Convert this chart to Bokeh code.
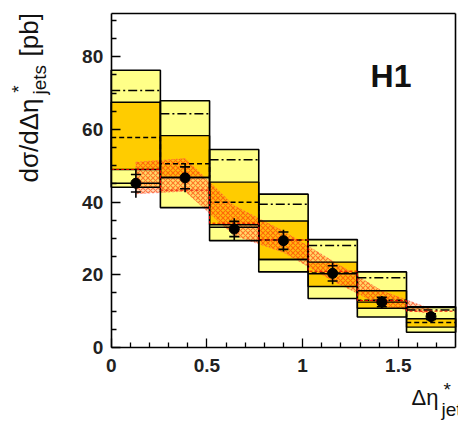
import math
from bokeh.plotting import figure
from bokeh.models import Range1d, FixedTicker, NumeralTickFormatter, Label, LinearAxis
from bokeh.embed import file_html
from bokeh.resources import INLINE

# ---- data ----
bin_edges = [0.0, 0.257, 0.514, 0.771, 1.029, 1.286, 1.543, 1.8]
bin_centers = [0.129, 0.386, 0.643, 0.900, 1.157, 1.414, 1.671]

yellow_lo = [44.1, 38.5, 29.4, 20.8, 13.5, 8.4, 4.2]
yellow_hi = [76.3, 67.9, 54.5, 42.2, 29.7, 20.8, 11.2]
orange_lo = [49.0, 46.8, 33.8, 24.2, 16.8, 10.8, 5.6]
orange_hi = [67.5, 58.3, 45.5, 34.8, 23.5, 15.6, 7.9]
dashdot_vals = [70.7, 64.3, 51.7, 39.4, 28.1, 19.2, 10.3]
dashed_vals = [57.8, 50.6, 40.0, 29.6, 20.5, 13.0, 6.9]
solid_vals = [45.2, 46.8, 33.1, 24.2, 20.3, 12.5, 11.0]

nlo_hi = [51.0, 52.0, 39.0, 32.0, 23.8, 15.6, 10.6]
nlo_lo = [42.3, 43.0, 30.8, 26.2, 18.4, 11.5, 9.3]
nlo_step = [49.0, 43.3, 34.2, 29.6, 21.0, 12.9, 10.0]

data_y = [45.2, 46.7, 32.6, 29.4, 20.4, 12.5, 8.5]
stat_err = [2.4, 3.0, 2.1, 2.4, 2.1, 1.3, 0.8]
tot_err = [4.0, 4.0, 3.0, 3.0, 3.0, 1.7, 1.1]

x_ticks = [0, 0.5, 1, 1.5]
x_minor = [0.1, 0.2, 0.3, 0.4, 0.6, 0.7, 0.8, 0.9, 1.1, 1.2, 1.3, 1.4, 1.6, 1.7]
y_ticks = [0, 20, 40, 60, 80]
y_minor = [5, 10, 15, 25, 30, 35, 45, 50, 55, 65, 70, 75, 85, 90]
X_MIN, X_MAX = 0.0, 1.8
Y_MIN, Y_MAX = 0.0, 92.0

YELLOW = "#FFFF88"
ORANGE = "#FFCC00"
FONT = "Liberation Sans"
TXT = "#111111"

# ---- layout: the frame fills the whole canvas; axes are drawn at fixed locations ----
W, H = 458, 422
FL, FR, FT, FB = 110.7, 455.2, 12.7, 347.0     # pixel box of the plotting area
sx_ = (FR - FL) / (X_MAX - X_MIN)
sy_ = (FB - FT) / (Y_MAX - Y_MIN)
x_range = Range1d(X_MIN - FL / sx_, X_MAX + (W - FR) / sx_)
y_range = Range1d(Y_MIN - (H - FB) / sy_, Y_MAX + FT / sy_)

p = figure(width=W, height=H, x_range=x_range, y_range=y_range,
           output_backend="svg", toolbar_location=None, min_border=0,
           x_axis_location=None, y_axis_location=None)
p.xgrid.visible = False
p.ygrid.visible = False
p.outline_line_color = None
p.background_fill_color = "white"
p.border_fill_color = "white"

left = bin_edges[:-1]
right = bin_edges[1:]

# filled boxes
p.quad(left=left, right=right, bottom=yellow_lo, top=yellow_hi, fill_color=YELLOW, line_color=None)
p.quad(left=left, right=right, bottom=orange_lo, top=orange_hi, fill_color=ORANGE, line_color=None)

# NLO hatched band
band_x = bin_centers + bin_centers[::-1]
band_y = nlo_hi + nlo_lo[::-1]
p.patch(band_x, band_y, fill_color="#FF9933", fill_alpha=0.35,
        hatch_pattern="x", hatch_color="#FF3300", hatch_alpha=0.6, hatch_scale=5, hatch_weight=1.1,
        line_color="#FF5555", line_alpha=0.5, line_width=1, line_dash="2 2")

# box outlines
p.quad(left=left, right=right, bottom=yellow_lo, top=yellow_hi, fill_color=None, line_color="black", line_width=1.6)
p.quad(left=left, right=right, bottom=orange_lo, top=orange_hi, fill_color=None, line_color="black", line_width=1.4)

# model lines
p.segment(x0=left, y0=dashdot_vals, x1=right, y1=dashdot_vals, line_color="black",
          line_width=1.5, line_dash="9 3 2 3")
sx, sy = [], []
for i in range(len(left)):
    sx += [left[i], right[i]]
    sy += [dashed_vals[i], dashed_vals[i]]
p.line(sx, sy, line_color="black", line_width=1.5, line_dash="5 3")
p.segment(x0=left, y0=solid_vals, x1=right, y1=solid_vals, line_color="black", line_width=1.4)

rx, ry = [], []
for i in range(len(left)):
    rx += [left[i], right[i]]
    ry += [nlo_step[i], nlo_step[i]]
p.line(rx, ry, line_color="#EE0000", line_width=1, line_dash="3 2")

# data points
tot_lo = [y - e for y, e in zip(data_y, tot_err)]
tot_hi = [y + e for y, e in zip(data_y, tot_err)]
st_lo = [y - e for y, e in zip(data_y, stat_err)]
st_hi = [y + e for y, e in zip(data_y, stat_err)]
p.segment(x0=bin_centers, y0=tot_lo, x1=bin_centers, y1=tot_hi, line_color="black", line_width=1.6)
p.scatter(bin_centers, st_lo, marker="dash", size=10, line_color="black", line_width=1.6)
p.scatter(bin_centers, st_hi, marker="dash", size=10, line_color="black", line_width=1.6)
p.scatter(bin_centers, data_y, marker="circle", size=10, fill_color="black", line_color="black")

# ---- axes ----
def style(ax):
    ax.axis_line_width = 1.6
    ax.axis_line_color = "black"
    ax.major_tick_in = 9
    ax.major_tick_out = 0
    ax.minor_tick_in = 5
    ax.minor_tick_out = 0
    ax.major_tick_line_width = 1.3
    ax.minor_tick_line_width = 1.3
    ax.major_label_text_font = FONT
    ax.major_label_text_font_size = "19px"
    ax.major_label_text_font_style = "bold"
    ax.major_label_text_color = "#222222"

xax = LinearAxis(fixed_location=Y_MIN, bounds=(X_MIN, X_MAX),
                 ticker=FixedTicker(ticks=x_ticks, minor_ticks=x_minor),
                 formatter=NumeralTickFormatter(format="0.[0]"))
style(xax)
xax.major_label_standoff = 11
p.add_layout(xax, "below")

yax = LinearAxis(fixed_location=X_MIN, bounds=(Y_MIN, Y_MAX),
                 ticker=FixedTicker(ticks=y_ticks, minor_ticks=y_minor))
style(yax)
yax.major_label_standoff = 8
p.add_layout(yax, "left")

# plain frame sides (top and right), no ticks
for loc, fixed, bnds in (("above", Y_MAX, (X_MIN, X_MAX)), ("right", X_MAX, (Y_MIN, Y_MAX))):
    ax = LinearAxis(fixed_location=fixed, bounds=bnds, ticker=FixedTicker(ticks=[]))
    ax.axis_line_width = 1.6
    ax.axis_line_color = "black"
    ax.major_tick_in = 0
    ax.major_tick_out = 0
    ax.minor_tick_in = 0
    ax.minor_tick_out = 0
    ax.major_label_text_font_size = "0px"
    p.add_layout(ax, loc)

# ---- texts (anchored at the vertical middle of the text line) ----
def lab(x, y, text, size, angle=0.0, bold=False):
    p.add_layout(Label(x=x, y=y, text=text, angle=angle, text_font=FONT, text_font_size=size,
                       text_font_style="bold" if bold else "normal", text_color=TXT,
                       text_baseline="middle", text_align="left"))

lab(1.355, 74.6, "H1", "32px", bold=True)

rot = math.pi / 2
lab(-0.427, 45.4, "dσ/dΔη", "26px", angle=rot)
lab(-0.486, 70.1, "*", "19px", angle=rot)
lab(-0.3725, 69.6, "jets", "19px", angle=rot)
lab(-0.427, 80.1, "[pb]", "26px", angle=rot)

lab(1.569, -13.87, "Δη", "22px")
lab(1.736, -11.67, "*", "19px")
lab(1.726, -17.17, "jets", "19px")

open("out.html", "w").write(file_html(p, INLINE))
